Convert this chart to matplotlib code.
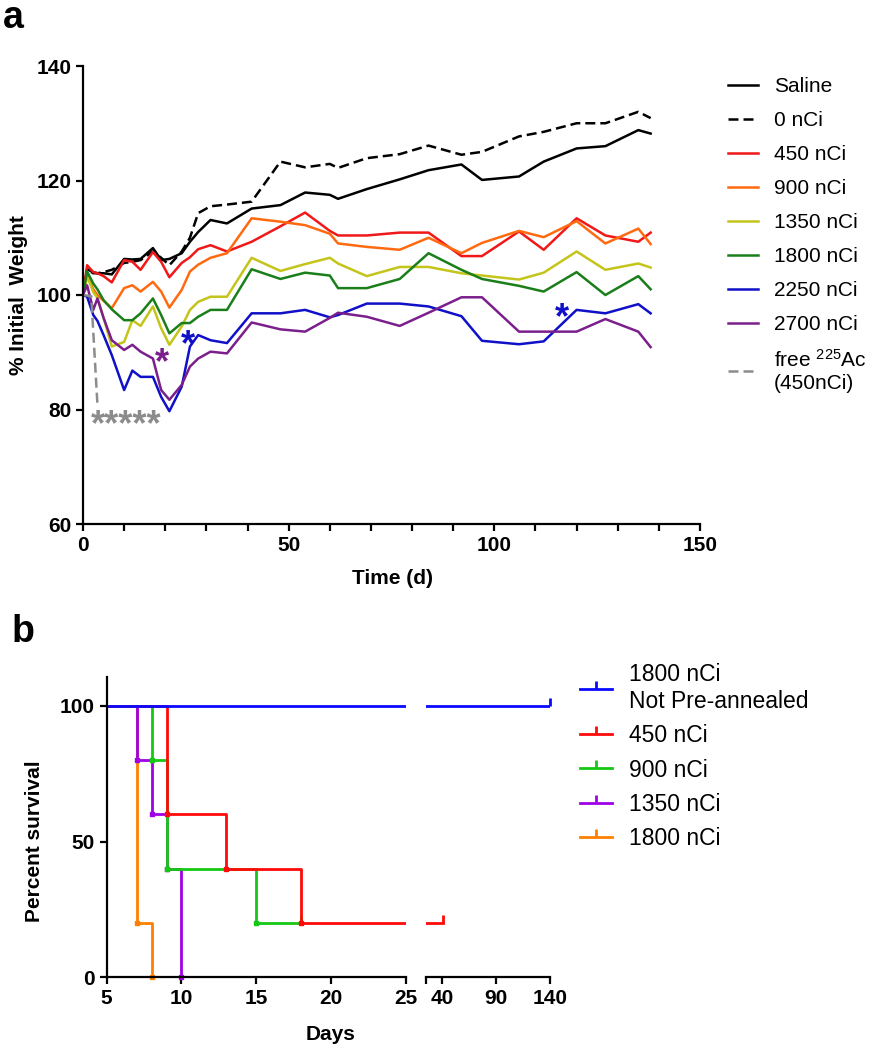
import matplotlib.pyplot as plt
from matplotlib.lines import Line2D

plt.rcParams['font.family'] = ['Liberation Sans', 'DejaVu Sans']
plt.rcParams['mathtext.default'] = 'regular'

# ---- panel a: % initial weight vs time ----
days = [0, 1, 2.5, 3.5, 5, 7, 10, 12, 14, 17, 19, 21, 24, 26, 28, 31, 35, 41, 48,
        54, 60, 62, 69, 77, 84, 92, 97, 106, 112, 120, 127, 135, 138]

saline = [100, 104.5, 104, 103.8, 103.8, 103.6, 106.3, 106.2, 106.3, 108.2, 106.1, 106.3,
          107.3, 109.3, 111, 113.1, 112.5, 115.1, 115.7, 117.9, 117.5, 116.8, 118.5, 120.2,
          121.8, 122.8, 120.1, 120.7, 123.3, 125.6, 126, 128.8, 128.2]
nci_0 = [100, 104.4, 103.8, 103.8, 104, 104.4, 105.6, 105.8, 106.1, 107.6, 106.5, 105.2,
         107.6, 110, 114.3, 115.5, 115.8, 116.3, 123.3, 122.3, 122.9, 122.2, 123.9, 124.6,
         126.1, 124.5, 125, 127.7, 128.5, 130, 130, 132, 130.9]
nci_450 = [100, 105.2, 104, 103.8, 103.3, 102.2, 106.1, 105.8, 104.4, 107.5, 105.8, 103.1,
           105.6, 106.6, 108, 108.7, 107.6, 109.3, 112, 114.4, 111.2, 110.4, 110.4, 110.9,
           110.9, 106.8, 106.8, 111.1, 107.9, 113.4, 110.4, 109.3, 110.9]
nci_900 = [100, 103.5, 101, 100, 99, 97.7, 101.2, 101.7, 100.6, 102.3, 100.6, 97.8,
           100.9, 104.1, 105.3, 106.5, 107.3, 113.4, 112.8, 112.2, 110.7, 109, 108.4, 107.9,
           110, 107.3, 109.1, 111.2, 110.1, 112.9, 109, 111.6, 108.9]
nci_1350 = [100, 103.3, 100.5, 99.5, 96, 91, 91.8, 95.6, 94.6, 98, 94.2, 91.3,
            94.5, 97.4, 98.8, 99.7, 99.7, 106.5, 104.2, 105.4, 106.5, 105.5, 103.3, 104.9,
            104.9, 103.8, 103.4, 102.7, 103.9, 107.6, 104.4, 105.5, 104.8]
nci_1800 = [100, 104.1, 102, 101, 99.1, 97.5, 95.6, 95.6, 96.8, 99.4, 96.5, 93.3,
            95.1, 95.1, 96.2, 97.4, 97.4, 104.5, 102.8, 103.9, 103.4, 101.2, 101.2, 102.8,
            107.3, 104.4, 102.8, 101.6, 100.6, 104, 100, 103.3, 101]
nci_2250 = [100, 99.7, 96.5, 95.5, 93, 89.5, 83.4, 86.8, 85.7, 85.7, 82.2, 79.7,
            84, 91, 93, 92.1, 91.6, 96.8, 96.8, 97.4, 96.1, 96.5, 98.5, 98.5,
            98, 96.3, 92, 91.4, 91.9, 97.4, 96.8, 98.4, 96.8]
nci_2700 = [100, 101.7, 97.4, 99.4, 96, 92.1, 90.4, 91.3, 90.1, 88.9, 83.4, 81.7,
            84.3, 87.5, 88.9, 90.1, 89.8, 95.2, 94, 93.6, 96, 96.9, 96.2, 94.6,
            96.9, 99.6, 99.6, 93.6, 93.6, 93.6, 95.8, 93.6, 90.9]
free_days = [0, 2, 3.5]
free_ac = [100, 99.8, 81]

labels_a = ['Saline', '0 nCi', '450 nCi', '900 nCi', '1350 nCi', '1800 nCi',
            '2250 nCi', '2700 nCi']
colors_a = ['black', 'black', '#f01818', '#ff6a10', '#c4c41a', '#1a7f1a',
            '#1010c8', '#7b1f8c']

# ---- panel b: survival ----
surv_labels = ['1800 nCi\nNot Pre-annealed', '450 nCi', '900 nCi', '1350 nCi', '1800 nCi']
surv_colors = ['#0a0aff', '#ff0a0a', '#14c814', '#a000e6', '#ff8000']
surv_t = [[5, 140], [5, 9, 13, 18, 41], [5, 8, 9, 15, 18], [5, 7, 8, 9, 10], [5, 7, 8]]
surv_s = [[100, 100], [100, 60, 40, 20, 20], [100, 80, 40, 20, 20],
          [100, 80, 60, 40, 0], [100, 20, 0]]

W, H = 880, 1050
fig = plt.figure(figsize=(8.8, 10.5), dpi=100)


def style_axes(ax, lw=1.6):
    for s in ['top', 'right']:
        ax.spines[s].set_visible(False)
    for s in ['left', 'bottom']:
        ax.spines[s].set_linewidth(lw)
    ax.tick_params(width=lw, length=5, labelsize=15, direction='out')


ax = fig.add_axes([83 / W, 1 - 524 / H, 617 / W, 458 / H])
series = [saline, nci_0, nci_450, nci_900, nci_1350, nci_1800, nci_2250, nci_2700]
handles = []
for vals, lab, col in zip(series, labels_a, colors_a):
    if lab == '0 nCi':
        h, = ax.plot(days, vals, color=col, lw=1.8, dashes=(4, 2), label=lab)
    else:
        h, = ax.plot(days, vals, color=col, lw=1.8, label=lab)
    handles.append(h)
h, = ax.plot(free_days, free_ac, color='#8c8c8c', lw=1.8, dashes=(4, 2),
             label='free $^{225}$Ac\n(450nCi)')
handles.append(h)

ax.set_xlim(0, 150)
ax.set_ylim(60, 140)
ax.set_xticks(range(0, 151, 10))
ax.set_xticklabels([str(v) if v % 50 == 0 else '' for v in range(0, 151, 10)])
ax.set_yticks([60, 80, 100, 120, 140])
style_axes(ax)
for lab in ax.get_xticklabels() + ax.get_yticklabels():
    lab.set_fontweight('bold')

# significance stars
ax.text(10.5, 75.6, '*****', color='#8c8c8c', fontsize=26, fontweight='bold', ha='center')
ax.text(19.3, 86.4, '*', color='#7b1f8c', fontsize=26, fontweight='bold', ha='center')
ax.text(25.5, 89.5, '*', color='#1010c8', fontsize=26, fontweight='bold', ha='center')
ax.text(116.5, 94.2, '*', color='#1010c8', fontsize=26, fontweight='bold', ha='center')

fig.legend(handles=handles, loc='upper left', bbox_to_anchor=(728 / W, 1 - 77 / H),
           frameon=False, fontsize=15, handlelength=1.45, handletextpad=0.75,
           labelspacing=0.72, borderpad=0, borderaxespad=0)

fig.text(18 / W, 1 - 295 / H, '% Initial  Weight', rotation=90, ha='center', va='center',
         fontsize=15, fontweight='bold')
fig.text(392 / W, 1 - 578 / H, 'Time (d)', ha='center', va='center',
         fontsize=15, fontweight='bold')
fig.text(3 / W, 1 - 18 / H, 'a', ha='left', va='center', fontsize=27, fontweight='bold')

# broken x axis for survival
bot = 1 - 977.3 / H
hgt = 300.6 / H
axb1 = fig.add_axes([106.7 / W, bot, 299 / W, hgt])
axb2 = fig.add_axes([425.7 / W, bot, 124.3 / W, hgt])
axb1.set_xlim(5, 25)
axb2.set_xlim(25, 140)
for a in (axb1, axb2):
    a.set_ylim(0, 110.7)
    a.patch.set_alpha(0)
    style_axes(a)

order = [4, 3, 2, 1, 0]
for i in order:
    t, s, col = surv_t[i], surv_s[i], surv_colors[i]
    for a in (axb1, axb2):
        lo, hi = a.get_xlim()
        a.step(t, s, where='post', color=col, lw=2)
        ev = [(t[k], s[k]) for k in range(1, len(t))
              if s[k] != s[k - 1] and lo <= t[k] <= hi]
        if ev:
            a.plot([e[0] for e in ev], [e[1] for e in ev], 's', color=col, ms=3.5,
                   clip_on=False)
        if s[-1] > 0 and lo < t[-1] <= hi:
            a.plot(t[-1], s[-1], marker=2, color=col, ms=6, mew=2, clip_on=False)

axb1.set_xticks([5, 10, 15, 20, 25])
axb1.set_yticks([0, 50, 100])
axb2.spines['left'].set_visible(False)
axb2.set_yticks([])
axb2.set_xticks([25, 40, 90, 140])
axb2.set_xticklabels(['', '40', '90', '140'])
for a in (axb1, axb2):
    for lab in a.get_xticklabels() + a.get_yticklabels():
        lab.set_fontweight('bold')

surv_handles = [Line2D([], [], color=c, lw=2, marker=2, ms=6, mew=2) for c in surv_colors]
fig.legend(handles=surv_handles, labels=surv_labels, loc='upper left',
           bbox_to_anchor=(580 / W, 1 - 663 / H), frameon=False, fontsize=16.5,
           handlelength=1.4, handletextpad=0.75, labelspacing=0.5, borderpad=0,
           borderaxespad=0, numpoints=1)

fig.text(35 / W, 1 - 841 / H, 'Percent survival', rotation=90, ha='center', va='center',
         fontsize=15, fontweight='bold')
fig.text(331 / W, 1 - 1035 / H, 'Days', ha='center', va='center',
         fontsize=15, fontweight='bold')
fig.text(12 / W, 1 - 632 / H, 'b', ha='left', va='center', fontsize=27, fontweight='bold')

fig.savefig('out.png', dpi=100)
